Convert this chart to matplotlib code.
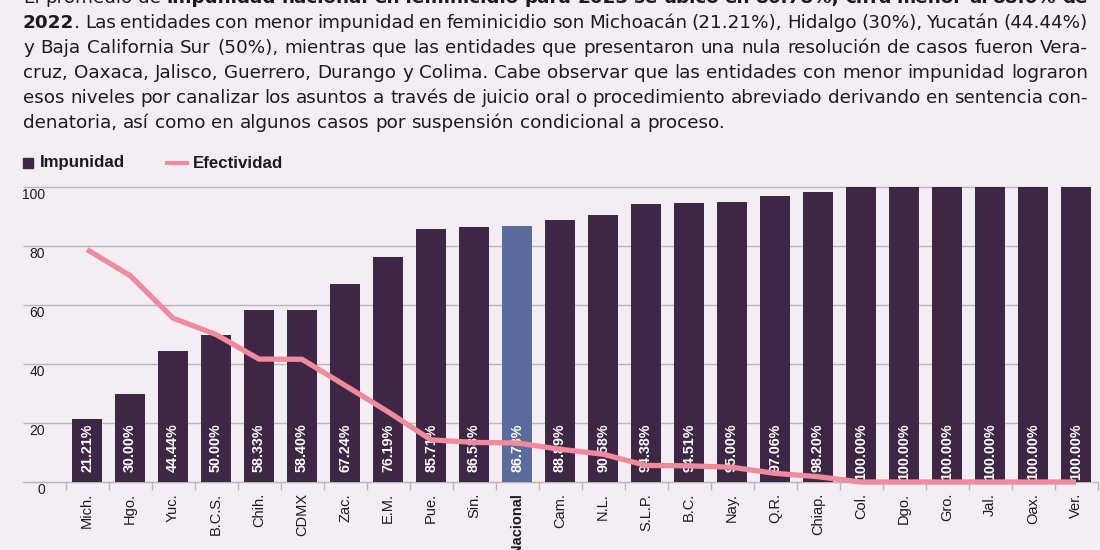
import matplotlib
matplotlib.use("Agg")
import matplotlib.pyplot as plt
from matplotlib.patches import Rectangle
from matplotlib.lines import Line2D
import matplotlib.transforms as mtransforms

# data
estados = ["Mich.", "Hgo.", "Yuc.", "B.C.S.", "Chih.", "CDMX", "Zac.", "E.M.", "Pue.",
           "Sin.", "Nacional", "Cam.", "N.L.", "S.L.P.", "B.C.", "Nay.", "Q.R.", "Chiap.",
           "Col.", "Dgo.", "Gro.", "Jal.", "Oax.", "Ver."]
impunidad = [21.21, 30.00, 44.44, 50.00, 58.33, 58.40, 67.24, 76.19, 85.71,
             86.58, 86.78, 88.89, 90.58, 94.38, 94.51, 95.00, 97.06, 98.20,
             100.00, 100.00, 100.00, 100.00, 100.00, 100.00]
efectividad = [78.79, 70.00, 55.56, 50.00, 41.67, 41.60, 32.76, 23.81, 14.29,
               13.42, 13.22, 11.11, 9.42, 5.62, 5.49, 5.00, 2.94, 1.80,
               0.00, 0.00, 0.00, 0.00, 0.00, 0.00]
yticks = [0, 20, 40, 60, 80, 100]

parrafo = [
    [("El promedio de ", False),
     ("impunidad nacional en feminicidio para 2023 se ubicó en 86.78%, cifra menor al 88.6% de", True)],
    [("2022", True),
     (". Las entidades con menor impunidad en feminicidio son Michoacán (21.21%), Hidalgo (30%), Yucatán (44.44%)", False)],
    [("y Baja California Sur (50%), mientras que las entidades que presentaron una nula resolución de casos fueron Vera-", False)],
    [("cruz, Oaxaca, Jalisco, Guerrero, Durango y Colima. Cabe observar que las entidades con menor impunidad lograron", False)],
    [("esos niveles por canalizar los asuntos a través de juicio oral o procedimiento abreviado derivando en sentencia con-", False)],
    [("denatoria, así como en algunos casos por suspensión condicional a proceso.", False)],
]

BG = "#F3EEF4"
BAR = "#3E2744"
NAC = "#5B6C9C"
PINK = "#F08A9E"
TXT = "#1c1a1e"
GRID = "#b9b5bb"

W, H = 1100, 550
fig = plt.figure(figsize=(11, 5.5), dpi=100, facecolor=BG)


def px(x, y):
    return x / W, 1 - y / H


def justified_paragraph(lines, left, right, baselines, size):
    renderer = fig.canvas.get_renderer()
    probe = fig.text(0, 0, "a a", fontsize=size, family="DejaVu Sans")
    w3 = probe.get_window_extent(renderer).width
    probe.set_text("aa")
    space = w3 - probe.get_window_extent(renderer).width
    probe.remove()
    for i, (segs, base) in enumerate(zip(lines, baselines)):
        # split into words, each word a list of (text, bold) parts
        words = [[]]
        for text, bold in segs:
            for j, c in enumerate(text.split(" ")):
                if j > 0:
                    words.append([])
                if c:
                    words[-1].append((c, bold))
        words = [w for w in words if w]
        objs = []
        total = 0
        for w in words:
            parts = []
            wwidth = 0
            for c, bold in w:
                t = fig.text(0, 0, c, fontsize=size, family="DejaVu Sans", color=TXT,
                             fontweight="bold" if bold else "normal", va="baseline")
                wd = t.get_window_extent(renderer).width
                parts.append((t, wd))
                wwidth += wd
            objs.append((parts, wwidth))
            total += wwidth
        if i == len(lines) - 1:
            gap = space
        else:
            gap = (right - left - total) / max(len(objs) - 1, 1)
        x = left
        for parts, wwidth in objs:
            for t, wd in parts:
                t.set_position(px(x, base))
                x += wd
            x += gap


justified_paragraph(parrafo, 23, 1088, [3, 28, 53, 78, 103, 128], 13.2)

# legend
fig.patches.append(Rectangle(px(23, 168), 10 / W, 10 / H, transform=fig.transFigure,
                             color=BAR, figure=fig))
fig.text(*px(40, 163), "Impunidad", fontsize=12.2, fontweight="bold",
         family="Liberation Sans", color=TXT, va="center")
fig.lines.append(Line2D([167 / W, 187 / W], [1 - 163 / H] * 2, transform=fig.transFigure,
                        color=PINK, lw=3, figure=fig))
fig.text(*px(193, 163), "Efectividad", fontsize=12.2, fontweight="bold",
         family="Liberation Sans", color=TXT, va="center")

# chart area
ax = fig.add_axes([23 / W, (H - 482) / H, (W - 23) / W, (482 - 187) / H])
ax.set_facecolor(BG)
x = list(range(len(estados)))
colores = [NAC if e == "Nacional" else BAR for e in estados]

px_per_cat = 43.0
xleft = -1 - (87 - 23 - px_per_cat) / px_per_cat
xright = xleft + (W - 23) / px_per_cat
ax.set_xlim(xleft, xright)
ax.set_ylim(0, 100)

grid_end = 22.28
for v in yticks:
    ax.hlines(v, xleft, grid_end, color=GRID, lw=1, zorder=0, clip_on=False)

ax.bar(x, impunidad, width=0.70, color=colores, zorder=2)

for xi, v in zip(x, impunidad):
    ax.text(xi, 19.8, f"{v:.2f}%", rotation=90, ha="center", va="top", color="white",
            fontsize=10.3, fontweight="bold", family="Liberation Sans", zorder=3)

ax.plot(x, efectividad, color=PINK, lw=3.8, zorder=5, clip_on=False,
        solid_joinstyle="round", solid_capstyle="butt")

for s in ["top", "right", "left"]:
    ax.spines[s].set_visible(False)
ax.spines["bottom"].set_color(GRID)
ax.spines["bottom"].set_bounds(xleft, len(estados) - 0.5)
ax.spines["bottom"].set_zorder(1)

ax.set_xticks(x)
ax.set_xticklabels(estados, rotation=90, fontsize=10.5, family="Liberation Sans", color=TXT)
for lab in ax.get_xticklabels():
    if lab.get_text() == "Nacional":
        lab.set_fontweight("bold")
ax.tick_params(axis="x", which="major", length=0, pad=8)
ax.set_xticks([i - 0.5 for i in range(len(estados) + 1)], minor=True)
ax.tick_params(axis="x", which="minor", length=6, color=GRID, width=1)

ax.set_yticks([])
ytrans = mtransforms.offset_copy(ax.get_yaxis_transform(), fig=fig, x=0, y=-1, units="dots")
for v in yticks:
    ax.text((45 - 23) / (W - 23), v, str(v), transform=ytrans, ha="right", va="top",
            fontsize=10, family="Liberation Sans", color=TXT)

fig.savefig("out.png", dpi=100, facecolor=BG)
